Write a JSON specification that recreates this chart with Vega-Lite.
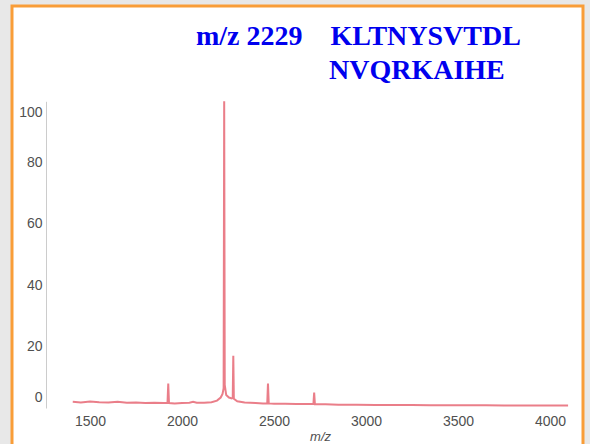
{
  "$schema": "https://vega.github.io/schema/vega-lite/v6.json",
  "width": 571,
  "height": 438,
  "autosize": {"type": "none"},
  "padding": {"left": 12, "top": 6, "right": 7, "bottom": 0},
  "background": "#e8e8e8",
  "title": {
    "text": ["m/z 2229\u00a0\u00a0\u00a0\u00a0KLTNYSVTDL", "\u200b\u00a0\u00a0\u00a0\u00a0\u00a0\u00a0\u00a0\u00a0\u00a0\u00a0\u00a0\u00a0\u00a0\u00a0\u00a0\u00a0\u00a0\u00a0\u00a0NVQRKAIHE"],
    "anchor": "start",
    "frame": "group",
    "dx": 184,
    "offset": -79,
    "font": "Liberation Serif",
    "fontSize": 28,
    "fontWeight": "bold",
    "color": "#0000ee",
    "lineHeight": 34
  },
  "data": {
    "values": [
      {"mz": 1406, "intensity": 2.0},
      {"mz": 1450, "intensity": 1.8},
      {"mz": 1500, "intensity": 2.1},
      {"mz": 1550, "intensity": 1.9},
      {"mz": 1600, "intensity": 1.8},
      {"mz": 1650, "intensity": 2.0},
      {"mz": 1700, "intensity": 1.7},
      {"mz": 1750, "intensity": 1.8},
      {"mz": 1800, "intensity": 1.6},
      {"mz": 1850, "intensity": 1.7},
      {"mz": 1900, "intensity": 1.6},
      {"mz": 1921, "intensity": 1.7},
      {"mz": 1925, "intensity": 8.0},
      {"mz": 1929, "intensity": 1.6},
      {"mz": 1960, "intensity": 1.5},
      {"mz": 2000, "intensity": 1.6},
      {"mz": 2040, "intensity": 1.7},
      {"mz": 2060, "intensity": 2.0},
      {"mz": 2080, "intensity": 1.7},
      {"mz": 2120, "intensity": 1.7},
      {"mz": 2160, "intensity": 1.9},
      {"mz": 2190, "intensity": 2.4},
      {"mz": 2210, "intensity": 3.4},
      {"mz": 2220, "intensity": 4.6},
      {"mz": 2226, "intensity": 6.5},
      {"mz": 2229, "intensity": 100},
      {"mz": 2232, "intensity": 7.5},
      {"mz": 2240, "intensity": 4.2},
      {"mz": 2255, "intensity": 3.4},
      {"mz": 2270, "intensity": 3.1},
      {"mz": 2275.5, "intensity": 3.3},
      {"mz": 2278.5, "intensity": 17},
      {"mz": 2281.5, "intensity": 3.0},
      {"mz": 2300, "intensity": 2.2},
      {"mz": 2340, "intensity": 1.8},
      {"mz": 2400, "intensity": 1.6},
      {"mz": 2440, "intensity": 1.5},
      {"mz": 2463, "intensity": 1.5},
      {"mz": 2467, "intensity": 8.0},
      {"mz": 2471, "intensity": 1.5},
      {"mz": 2500, "intensity": 1.4},
      {"mz": 2560, "intensity": 1.4},
      {"mz": 2620, "intensity": 1.3},
      {"mz": 2680, "intensity": 1.3},
      {"mz": 2714, "intensity": 1.3},
      {"mz": 2718, "intensity": 5.0},
      {"mz": 2722, "intensity": 1.2},
      {"mz": 2780, "intensity": 1.2},
      {"mz": 2850, "intensity": 1.1},
      {"mz": 2950, "intensity": 1.1},
      {"mz": 3050, "intensity": 1.0},
      {"mz": 3150, "intensity": 1.0},
      {"mz": 3250, "intensity": 1.0},
      {"mz": 3350, "intensity": 0.9},
      {"mz": 3450, "intensity": 0.9},
      {"mz": 3550, "intensity": 0.9},
      {"mz": 3650, "intensity": 0.9},
      {"mz": 3750, "intensity": 0.8},
      {"mz": 3850, "intensity": 0.8},
      {"mz": 3950, "intensity": 0.8},
      {"mz": 4050, "intensity": 0.8},
      {"mz": 4098, "intensity": 0.8}
    ]
  },
  "mark": {"type": "line", "color": "#e8707c", "strokeWidth": 2, "opacity": 0.9},
  "encoding": {
    "x": {
      "field": "mz",
      "type": "quantitative",
      "scale": {"domain": [1400, 4100], "range": [59.65, 556.45], "zero": false, "nice": false},
      "axis": {
        "title": "m/z",
        "values": [1500, 2000, 2500, 3000, 3500, 4000],
        "format": "d",
        "offset": -34,
        "domain": false,
        "ticks": false,
        "grid": false,
        "labelPadding": 4,
        "labelFlush": false,
        "labelFont": "Liberation Sans",
        "labelFontSize": 14,
        "labelColor": "#505050",
        "titleFont": "Liberation Sans",
        "titleFontSize": 13,
        "titleFontStyle": "italic",
        "titleFontWeight": "normal",
        "titleColor": "#505050",
        "titlePadding": 2
      }
    },
    "y": {
      "field": "intensity",
      "type": "quantitative",
      "scale": {"domain": [0, 100], "range": [402, 95.3], "zero": false, "nice": false},
      "axis": {
        "title": null,
        "values": [0, 20, 40, 60, 80, 100],
        "format": "d",
        "offset": -34,
        "domain": true,
        "domainColor": "#cccccc",
        "domainWidth": 1,
        "ticks": false,
        "grid": false,
        "labelPadding": 4,
        "labelFlush": true,
        "labelFlushOffset": -4,
        "labelFont": "Liberation Sans",
        "labelFontSize": 14,
        "labelColor": "#505050"
      }
    }
  },
  "config": {
    "view": {"fill": "#ffffff", "stroke": "#f99d38", "strokeWidth": 3, "strokeDash": [1009, 571, 438]}
  }
}
